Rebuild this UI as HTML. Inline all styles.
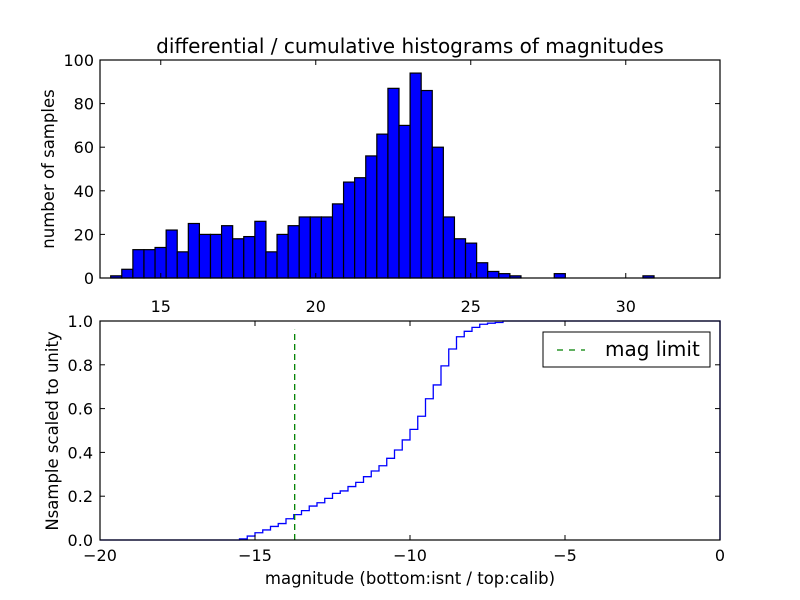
<!DOCTYPE html>
<html><head><meta charset="utf-8"><style>
html,body{margin:0;padding:0;background:#fff;}
svg{display:block;font-family:"DejaVu Sans","Liberation Sans",sans-serif;}
</style></head><body>
<svg id="fig" width="800" height="600" viewBox="0 0 800 600">
<rect width="800" height="600" fill="#fff"/>
<text x="410" y="53" font-size="20" text-anchor="middle">differential / cumulative histograms of magnitudes</text>
<text transform="translate(54,169) rotate(-90)" font-size="16.5" text-anchor="middle">number of samples</text>
<text transform="translate(58,431) rotate(-90)" font-size="16.5" text-anchor="middle">Nsample scaled to unity</text>
<text x="410" y="584" font-size="16.5" text-anchor="middle">magnitude (bottom:isnt / top:calib)</text>
<g id="topAxes"></g>
<g id="botAxes"></g>
</svg>
<script>
// ---- top histogram data ----
const histStart = 13.385;
const histBinWidth = 0.3577;
const histCounts = [1,4,13,13,14,22,12,25,20,20,24,18,19,26,12,20,24,28,28,28,34,44,46,56,66,87,70,94,86,60,28,18,16,7,3,2,1,0,0,0,2,0,0,0,0,0,0,0,1];
const topXTicks = [15,20,25,30];
const topYTicks = [0,20,40,60,80,100];
// ---- bottom cumulative data ----
const cumStart = -15.5;
const cumBinWidth = 0.25;
const cumValues = [0.005,0.018,0.033,0.046,0.062,0.075,0.097,0.116,0.134,0.155,0.170,0.190,0.213,0.224,0.244,0.263,0.289,0.315,0.339,0.373,0.411,0.457,0.505,0.565,0.645,0.708,0.795,0.872,0.928,0.953,0.971,0.985,0.990,0.993,1.0];
const magLimit = [-13.72];
const botXTicks = [-20,-15,-10,-5,0];
const botYTicks = [0,0.2,0.4,0.6,0.8,1.0];

const SVGNS='http://www.w3.org/2000/svg';
function mk(parent,tag,attrs){const e=document.createElementNS(SVGNS,tag);for(const k in attrs)e.setAttribute(k,attrs[k]);parent.appendChild(e);return e;}

// top axes
const T={x0:100,x1:720,y0:278,y1:60,dmin:13.04,dmax:33.04,rmin:0,rmax:100};
const tx=v=>T.x0+(v-T.dmin)/(T.dmax-T.dmin)*(T.x1-T.x0);
const ty=v=>T.y0-(v-T.rmin)/(T.rmax-T.rmin)*(T.y0-T.y1);
const topG=document.getElementById('topAxes');
histCounts.forEach((c,i)=>{
  if(c<=0) return;
  const a=tx(histStart+i*histBinWidth), b=tx(histStart+(i+1)*histBinWidth);
  const r=mk(topG,'rect',{x:a,y:ty(c),width:b-a,height:ty(0)-ty(c),fill:'#0000ff',stroke:'#000','stroke-width':1.2});
  
  
});
let fr=mk(topG,'rect',{x:T.x0,y:T.y1,width:T.x1-T.x0,height:T.y0-T.y1,fill:'none',stroke:'#000','stroke-width':1.2});


topXTicks.forEach(v=>{
  const x=tx(v);
  mk(topG,'line',{x1:x,x2:x,y1:T.y0,y2:T.y0-5,stroke:'#000'});
  mk(topG,'line',{x1:x,x2:x,y1:T.y1,y2:T.y1+5,stroke:'#000'});
  const t=mk(topG,'text',{x:x,y:T.y0+34,'font-size':16,'text-anchor':'middle'});
  t.textContent=v;
  
  
});
topYTicks.forEach(v=>{
  const y=ty(v);
  mk(topG,'line',{x1:T.x0,x2:T.x0+5,y1:y,y2:y,stroke:'#000'});
  mk(topG,'line',{x1:T.x1,x2:T.x1-5,y1:y,y2:y,stroke:'#000'});
  const t=mk(topG,'text',{x:T.x0-6,y:y+6,'font-size':16,'text-anchor':'end'});
  t.textContent=v;
  
  
});

// bottom axes
const B={x0:100,x1:720,y0:540,y1:321,dmin:-20,dmax:0,rmin:0,rmax:1};
const bx=v=>B.x0+(v-B.dmin)/(B.dmax-B.dmin)*(B.x1-B.x0);
const by=v=>B.y0-(v-B.rmin)/(B.rmax-B.rmin)*(B.y0-B.y1);
const botG=document.getElementById('botAxes');
let d='M'+bx(B.dmin)+','+by(0)+' L'+bx(cumStart)+','+by(0);
cumValues.forEach((v,i)=>{
  const a=bx(cumStart+i*cumBinWidth), b=bx(cumStart+(i+1)*cumBinWidth);
  d+=' L'+a+','+by(v)+' L'+b+','+by(v);
});
d+=' L'+bx(B.dmax)+','+by(cumValues[cumValues.length-1])+' L'+bx(B.dmax)+','+by(0);
const p=mk(botG,'path',{d:d,fill:'none',stroke:'#0000ff','stroke-width':1.3});


magLimit.forEach(m=>{
  const l=mk(botG,'line',{x1:bx(m),x2:bx(m),y1:by(0),y2:by(0.96),stroke:'#008000','stroke-width':1.3,'stroke-dasharray':'6,4'});
  
  
});
fr=mk(botG,'rect',{x:B.x0,y:B.y1,width:B.x1-B.x0,height:B.y0-B.y1,fill:'none',stroke:'#000','stroke-width':1.2});


botXTicks.forEach(v=>{
  const x=bx(v);
  mk(botG,'line',{x1:x,x2:x,y1:B.y0,y2:B.y0-5,stroke:'#000'});
  mk(botG,'line',{x1:x,x2:x,y1:B.y1,y2:B.y1+5,stroke:'#000'});
  const t=mk(botG,'text',{x:x,y:B.y0+21,'font-size':16,'text-anchor':'middle'});
  t.textContent=(v<0?'\u2212'+(-v):v);
  
  
});
botYTicks.forEach(v=>{
  const y=by(v);
  mk(botG,'line',{x1:B.x0,x2:B.x0+5,y1:y,y2:y,stroke:'#000'});
  mk(botG,'line',{x1:B.x1,x2:B.x1-5,y1:y,y2:y,stroke:'#000'});
  const t=mk(botG,'text',{x:B.x0-7,y:y+6,'font-size':16,'text-anchor':'end'});
  t.textContent=v.toFixed(1);
  
  
});
// legend
const lg=mk(botG,'g',{});


mk(lg,'rect',{x:543,y:332,width:167,height:35,fill:'#fff',stroke:'#000','stroke-width':1});
mk(lg,'line',{x1:557,x2:585,y1:350,y2:350,stroke:'#008000','stroke-width':1.3,'stroke-dasharray':'6,6'});
const lt=mk(lg,'text',{x:605,y:356,'font-size':20});
lt.textContent='mag limit';


</script>
</body></html>
